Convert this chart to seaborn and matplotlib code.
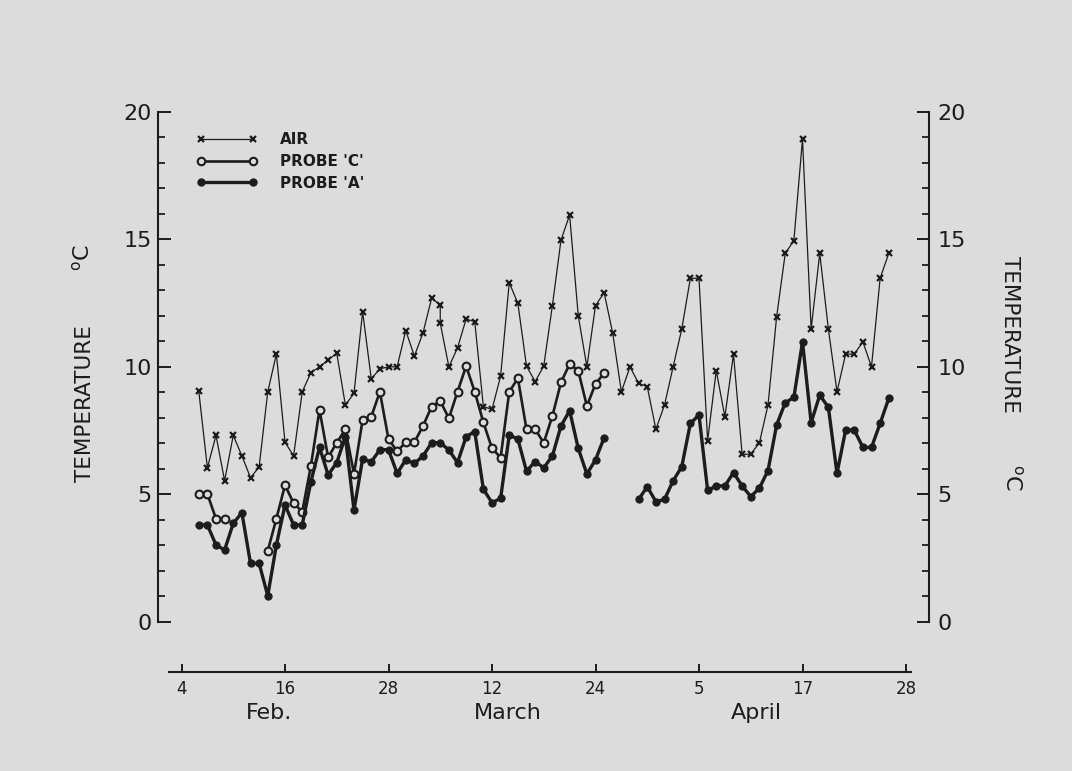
import numpy as np
import pandas as pd
import matplotlib
matplotlib.use("Agg")
import matplotlib.pyplot as plt
from matplotlib.lines import Line2D
from matplotlib.ticker import FixedLocator
import seaborn as sns

# ---------------- data (day index 0 = 4 Feb) ----------------
air_days = list(range(2, 31)) + [30] + list(range(31, 83))
air_temp = [9.05, 6.04, 7.31, 5.53, 7.31, 6.51, 5.65, 6.07, 9.02, 10.5,
            7.04, 6.51, 9.02, 9.77, 10.0, 10.27, 10.53, 8.50, 8.96, 12.16,
            9.53, 9.92, 10.0, 10.0, 11.42, 10.42, 11.33, 12.69, 12.42, 11.71,
            10.0, 10.74, 11.87, 11.77, 8.44, 8.33, 9.64, 13.30, 12.49, 10.03,
            9.42, 10.03, 12.40, 14.97, 15.95, 12.0, 10.0, 12.40, 12.91, 11.31,
            9.02, 10.0, 9.35, 9.22, 7.55, 8.50, 10.0, 11.48, 13.47, 13.47,
            7.10, 9.85, 8.04, 10.5, 6.57, 6.57, 7.02, 8.50, 11.96, 14.45,
            14.95, 18.93, 11.48, 14.45, 11.48, 9.02, 10.5, 10.5, 10.98, 10.0,
            13.47, 14.45]

probe_c_days = list(range(2, 50))
probe_c_temp = [5.01, 5.01, 4.04, 4.04, np.nan, np.nan, np.nan, np.nan,
                2.78, 4.04, 5.36, 4.65, 4.32, 6.11, 8.31, 6.45, 7.02, 7.55,
                5.80, 7.92, 8.04, 9.02, 7.16, 6.69, 7.04, 7.04, 7.68, 8.44,
                8.66, 7.98, 9.02, 10.03, 9.02, 7.82, 6.80, 6.44, 9.02, 9.55,
                7.55, 7.55, 7.02, 8.07, 9.39, 10.11, 9.85, 8.46, 9.33, 9.75]

probe_a_days = list(range(2, 83))
probe_a_temp = [3.80, 3.80, 3.01, 2.82, 3.86, 4.28, 2.29, 2.29, 1.02, 3.01,
                4.58, 3.80, 3.80, 5.49, 6.84, 5.76, 6.24, 7.26, 4.38, 6.39,
                6.27, 6.75, 6.75, 5.82, 6.35, 6.21, 6.50, 7.02, 7.02, 6.74,
                6.24, 7.26, 7.46, 5.20, 4.67, 4.84, 7.33, 7.16, 5.91, 6.28,
                6.04, 6.50, 7.68, 8.28, 6.80, 5.80, 6.35, 7.22, np.nan, np.nan,
                np.nan, 4.80, 5.30, 4.71, 4.80, 5.53, 6.08, 7.78, 8.11, 5.15,
                5.33, 5.33, 5.85, 5.33, 4.91, 5.24, 5.93, 7.72, 8.59, 8.80,
                10.98, 7.81, 8.89, 8.41, 5.82, 7.52, 7.52, 6.84, 6.84, 7.78,
                8.76]

tick_days = [0, 12, 24, 36, 48, 60, 72, 84]
tick_labels = ["4", "16", "28", "12", "24", "5", "17", "28"]
month_names = ["Feb.", "March", "April"]
month_pos = [10.2, 37.8, 66.6]
series_labels = ["AIR", "PROBE 'C'", "PROBE 'A'"]


def segments(days, temps):
    df = pd.DataFrame({"day": days, "temp": temps})
    df["seg"] = df["temp"].isna().cumsum()
    return df.dropna().reset_index(drop=True)


air_df = segments(air_days, air_temp)
c_df = segments(probe_c_days, probe_c_temp)
a_df = segments(probe_a_days, probe_a_temp)

# ---------------- style ----------------
sns.set_style("ticks")
plt.rcParams["font.family"] = ["DejaVu Sans"]
bg = "#dcdcdc"
ink = "#1c1c1c"

W, H = 1072, 771
fig = plt.figure(figsize=(W / 100, H / 100), dpi=100, facecolor=bg)
left_px, right_px, top_px, bottom_px = 158, 929, 111.8, 671.7
ax = fig.add_axes([left_px / W, 1 - bottom_px / H,
                   (right_px - left_px) / W, (bottom_px - top_px) / H])
ax.set_facecolor("none")

px_per_unit = 25.5
px_per_day = 8.625
ax.set_ylim(-(bottom_px - 621.8) / px_per_unit, 20)
ax.set_xlim((left_px - 181.5) / px_per_day, (right_px - 181.5) / px_per_day)

sns.lineplot(data=air_df, x="day", y="temp", units="seg", estimator=None,
             sort=False, ax=ax, color=ink, linewidth=0.9, marker="x",
             markersize=4, markeredgewidth=1.6, markeredgecolor=ink)
sns.lineplot(data=c_df, x="day", y="temp", units="seg", estimator=None,
             sort=False, ax=ax, color=ink, linewidth=1.9, marker="o",
             markersize=5.6, markerfacecolor=bg, markeredgewidth=1.5,
             markeredgecolor=ink)
sns.lineplot(data=a_df, x="day", y="temp", units="seg", estimator=None,
             sort=False, ax=ax, color=ink, linewidth=2.4, marker="o",
             markersize=5.2, markerfacecolor=ink, markeredgecolor=ink)

# spines
for s in ["left", "right", "bottom"]:
    ax.spines[s].set_linewidth(1.5)
    ax.spines[s].set_color(ink)
ax.spines["top"].set_visible(False)
ax.spines["right"].set_visible(False)
ax.spines["left"].set_bounds(0, 20)
ax.spines["bottom"].set_bounds((169 - 181.5) / px_per_day, (911 - 181.5) / px_per_day)

# y axis (left)
ax.yaxis.set_major_locator(FixedLocator([0, 5, 10, 15, 20]))
ax.yaxis.set_minor_locator(FixedLocator(list(range(0, 21))))
ax.tick_params(axis="y", which="major", direction="in", length=9.5, width=1.4,
               pad=4.5, labelsize=16, colors=ink)
ax.tick_params(axis="y", which="minor", direction="in", length=4.8, width=1.3,
               colors=ink)
ax.set_ylabel("")
ax.set_xlabel("")

# x axis
ax.set_xticks(tick_days)
ax.set_xticklabels(tick_labels)
ax.tick_params(axis="x", which="major", direction="in", length=6, width=1.4,
               pad=6, labelsize=12, colors=ink)
ax.tick_params(axis="x", which="minor", bottom=False)

# right axis
ax2 = ax.twinx()
ax2.set_position(ax.get_position())
ax2.set_ylim(ax.get_ylim())
ax2.set_facecolor("none")
for s in ["left", "top", "bottom"]:
    ax2.spines[s].set_visible(False)
ax2.spines["right"].set_bounds(0, 20)
ax2.spines["right"].set_linewidth(1.5)
ax2.spines["right"].set_color(ink)
ax2.yaxis.set_major_locator(FixedLocator([0, 5, 10, 15, 20]))
ax2.yaxis.set_minor_locator(FixedLocator(list(range(0, 21))))
ax2.tick_params(axis="y", which="major", direction="in", length=9, width=1.4,
                pad=6, labelsize=16, colors=ink)
ax2.tick_params(axis="y", which="minor", direction="in", length=5, width=1.3,
                colors=ink)

# month labels
for name, pos in zip(month_names, month_pos):
    ax.text(pos, -(713 - bottom_px) / (bottom_px - top_px), name,
            transform=ax.get_xaxis_transform(), ha="center", va="center",
            fontsize=16, color=ink)

# axis titles
fig.text(85 / W, 1 - 404 / H, "TEMPERATURE", rotation=90, ha="center",
         va="center", fontsize=15.5, color=ink)
fig.text(82 / W, 1 - 258 / H, r"$^{\mathrm{o}}$C", rotation=90, ha="center",
         va="center", fontsize=16, color=ink)
fig.text(1010 / W, 1 - 334 / H, "TEMPERATURE", rotation=270, ha="center",
         va="center", fontsize=15.5, color=ink)
fig.text(1013 / W, 1 - 477 / H, r"$^{\mathrm{o}}$C", rotation=270, ha="center",
         va="center", fontsize=16, color=ink)

# legend
handles = [
    Line2D([], [], color=ink, linewidth=0.9, marker="x", markersize=4,
           markeredgewidth=1.6),
    Line2D([], [], color=ink, linewidth=1.9, marker="o", markersize=5.4,
           markerfacecolor=bg, markeredgewidth=1.5),
    Line2D([], [], color=ink, linewidth=2.4, marker="o", markersize=5,
           markerfacecolor=ink),
]
leg = fig.legend(handles, series_labels, loc="upper left",
                 bbox_to_anchor=(196 / W, 1 - 132 / H), frameon=False,
                 numpoints=2, handlelength=4.0, handletextpad=1.5,
                 labelspacing=0.45, borderpad=0, borderaxespad=0,
                 prop={"size": 11, "weight": "bold"})
for t in leg.get_texts():
    t.set_color(ink)

fig.savefig("out.png", dpi=100, facecolor=bg)
